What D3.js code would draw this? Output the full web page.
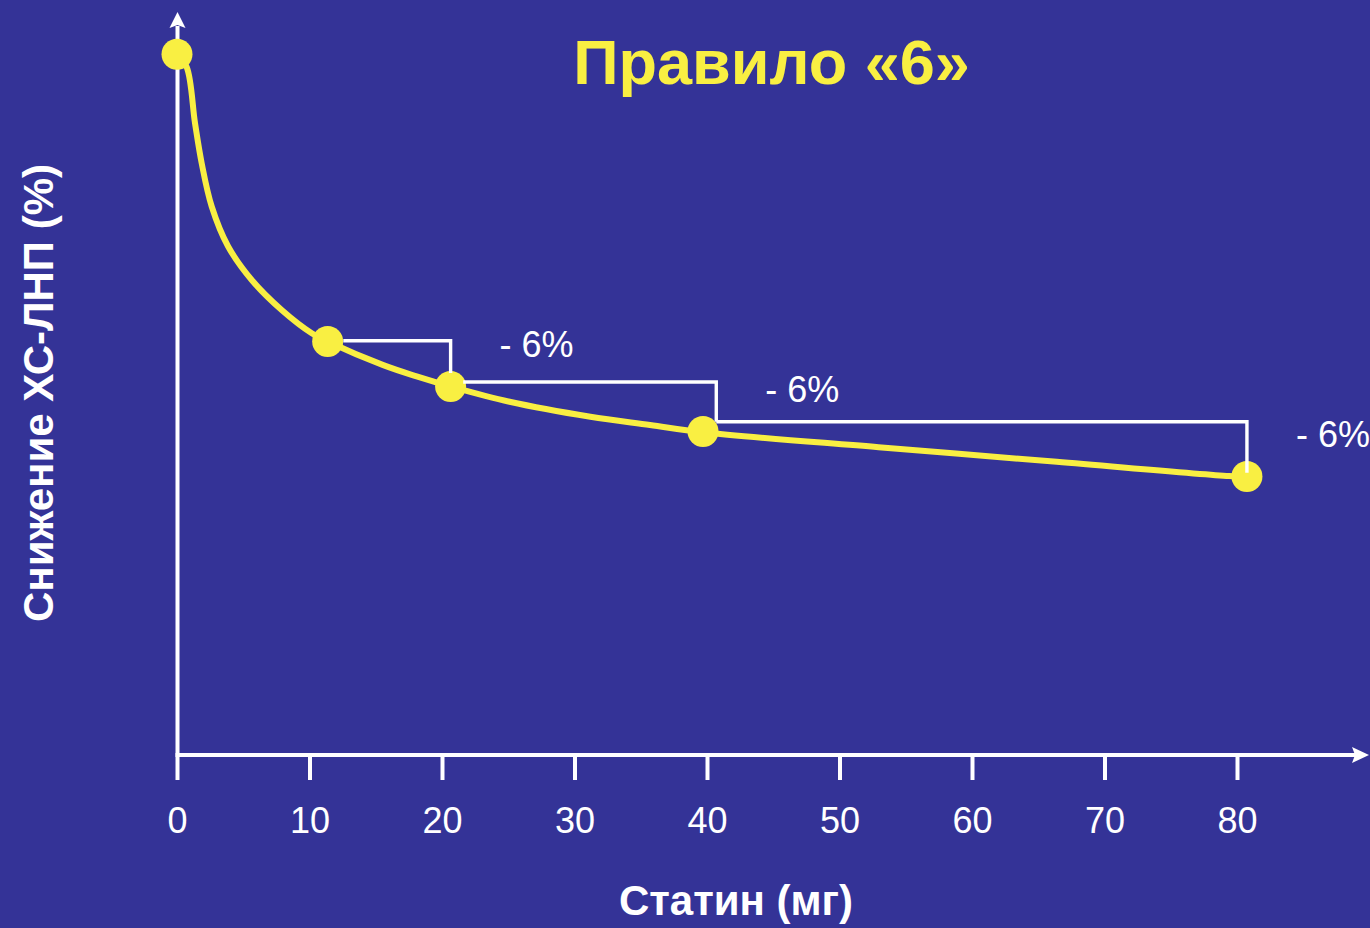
<!DOCTYPE html>
<html>
<head>
<meta charset="utf-8">
<script src="https://cdn.jsdelivr.net/npm/d3@7"></script>
<style>
  html, body { margin: 0; padding: 0; background: #343397; }
  svg { display: block; }
  text { font-family: "Liberation Sans", Arial, sans-serif; }
</style>
</head>
<body>
<svg id="chart" width="1370" height="928"></svg>
<script>
// Dose of statin (mg) and LDL-C level for the marked doses
const markerDose  = [0, 11.37, 20.65, 39.7, 80.75];
const markerValue = [93.3, 55, 49, 43, 37];

// Dose-response curve, sampled along its length
const curveDose  = [0, 0.73, 1.36, 1.86, 2.62, 3.85, 5.64, 7.9, 10.17, 11.37, 15.57, 18.09, 20.65, 25.1, 31.2, 35.7, 39.7, 52.95, 66.4, 79.4, 80.75];
const curveValue = [93.3, 91.6, 84.1, 78.8, 73.0, 67.7, 63.2, 59.2, 56.1, 55.0, 51.85, 50.35, 49.0, 46.96, 44.96, 43.87, 42.9, 40.9, 38.96, 37.07, 37.0];

// Each doubling of the dose: step brackets with their labels
const stepFrom   = [12.55, 21.6, 40.7];
const stepTo     = [20.65, 40.7, 80.75];
const stepLevel  = [55.1, 49.6, 44.3];
const stepEnd    = [50.8, 44.3, 37.5];
const stepLabels = ["- 6%", "- 6%", "- 6%"];

// Axis ticks and titles
const xTicks = [0, 10, 20, 30, 40, 50, 60, 70, 80];
const titleText  = "Правило «6»";
const xTitleText = "Статин (мг)";
const yTitleText = "Снижение ХС-ЛНП (%)";

const YELLOW = "#f9ef42";
const WHITE = "#ffffff";

const svg = d3.select("#chart");
svg.append("rect").attr("width", 1370).attr("height", 928).attr("fill", "#343397");

const x = d3.scaleLinear().domain([0, 80]).range([177, 1237]);
const y = d3.scaleLinear().domain([0, 100]).range([754, 4]);

const axisY = 755;
const axisX = 177.5;

// Y axis with arrow
svg.append("line")
  .attr("x1", axisX).attr("x2", axisX)
  .attr("y1", 757).attr("y2", 26)
  .attr("stroke", WHITE).attr("stroke-width", 4);
svg.append("path")
  .attr("d", `M${axisX},12 L${axisX + 8},28 L${axisX},25 L${axisX - 8},28 Z`)
  .attr("fill", WHITE);

// X axis with arrow
svg.append("line")
  .attr("x1", axisX - 2).attr("x2", 1356)
  .attr("y1", axisY).attr("y2", axisY)
  .attr("stroke", WHITE).attr("stroke-width", 4);
svg.append("path")
  .attr("d", `M1369,${axisY} L1352,${axisY - 8} L1355,${axisY} L1352,${axisY + 8} Z`)
  .attr("fill", WHITE);

// Ticks and tick labels
const xAxis = d3.axisBottom(x)
  .tickValues(xTicks)
  .tickFormat(d3.format("d"))
  .tickSize(23)
  .tickPadding(27);
const gx = svg.append("g")
  .attr("transform", `translate(0,757)`)
  .call(xAxis);
gx.select(".domain").remove();
gx.selectAll(".tick line").attr("stroke", WHITE).attr("stroke-width", 4);
gx.selectAll(".tick text")
  .attr("fill", WHITE)
  .attr("font-size", 36)
  .attr("font-family", "\"Liberation Sans\", Arial, sans-serif");

// Dose-response curve
const pts = curveDose.map((d, i) => [d, curveValue[i]]);
const line = d3.line()
  .x(d => x(d[0]))
  .y(d => y(d[1]))
  .curve(d3.curveCatmullRom.alpha(0.5));
svg.append("path")
  .datum(pts)
  .attr("d", line)
  .attr("fill", "none")
  .attr("stroke", YELLOW)
  .attr("stroke-width", 6)
  .attr("stroke-linecap", "round");

// Markers
const markers = markerDose.map((d, i) => ({ dose: d, value: markerValue[i] }));
svg.selectAll("circle.marker")
  .data(markers)
  .enter().append("circle")
  .attr("class", "marker")
  .attr("cx", d => x(d.dose))
  .attr("cy", d => y(d.value))
  .attr("r", 15.5)
  .attr("fill", YELLOW);

// Step brackets
const steps = stepFrom.map((d, i) => ({
  from: d, to: stepTo[i], level: stepLevel[i], end: stepEnd[i], label: stepLabels[i]
}));
svg.selectAll("path.step")
  .data(steps)
  .enter().append("path")
  .attr("class", "step")
  .attr("d", d => `M${x(d.from)},${y(d.level)} H${x(d.to)} V${y(d.end)}`)
  .attr("fill", "none")
  .attr("stroke", WHITE)
  .attr("stroke-width", 3.4);

svg.selectAll("text.step-label")
  .data(steps)
  .enter().append("text")
  .attr("class", "step-label")
  .attr("x", d => x(d.to) + 49)
  .attr("y", d => (y(d.level) + y(d.end)) / 2)
  .attr("fill", WHITE)
  .attr("font-size", 36)
  .text(d => d.label);

// Titles
svg.append("text")
  .attr("x", 771.5).attr("y", 84)
  .attr("text-anchor", "middle")
  .attr("fill", YELLOW)
  .attr("font-size", 63)
  .attr("font-weight", "bold")
  .text(titleText);

svg.append("text")
  .attr("x", 736).attr("y", 915)
  .attr("text-anchor", "middle")
  .attr("fill", WHITE)
  .attr("font-size", 42)
  .attr("font-weight", "bold")
  .text(xTitleText);

svg.append("text")
  .attr("transform", "translate(53,393) rotate(-90)")
  .attr("text-anchor", "middle")
  .attr("fill", WHITE)
  .attr("font-size", 42)
  .attr("font-weight", "bold")
  .text(yTitleText);
</script>
</body>
</html>
